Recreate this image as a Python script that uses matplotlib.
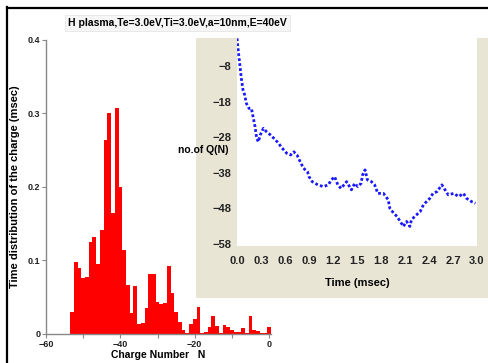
import matplotlib
matplotlib.use("Agg")
import matplotlib.pyplot as plt
from matplotlib.lines import Line2D

plt.rcParams['font.family'] = ['Liberation Sans', 'DejaVu Sans']
plt.rcParams['font.weight'] = 'bold'

# histogram: charge number vs time distribution
charge = list(range(-53, 1))
dist = [0.030, 0.098, 0.090, 0.076, 0.078, 0.125, 0.132, 0.095, 0.141, 0.264,
        0.300, 0.164, 0.307, 0.200, 0.114, 0.067, 0.028, 0.065, 0.014, 0.015,
        0.035, 0.081, 0.082, 0.044, 0.041, 0.042, 0.093, 0.056, 0.030, 0.017,
        0.006, 0.002, 0.014, 0.020, 0.037, 0.002, 0.003, 0.010, 0.025, 0.011,
        0.001, 0.012, 0.009, 0.005, 0.003, 0.003, 0.008, 0.002, 0.025, 0.005,
        0.004, 0.002, 0.001, 0.010]

# inset: charge Q(N) vs time
time = [0.0, 0.017, 0.033, 0.054, 0.075, 0.096, 0.117, 0.15, 0.18, 0.2,
        0.225, 0.246, 0.267, 0.29, 0.33, 0.37, 0.42, 0.46, 0.52, 0.55,
        0.62, 0.67, 0.71, 0.75, 0.79, 0.83, 0.88, 0.9, 0.94, 1.01,
        1.08, 1.14, 1.18, 1.22, 1.26, 1.3, 1.37, 1.43, 1.47, 1.51,
        1.55, 1.57, 1.6, 1.63, 1.68, 1.72, 1.76, 1.83, 1.89, 1.91,
        1.96, 2.0, 2.04, 2.08, 2.12, 2.16, 2.18, 2.22, 2.29, 2.33,
        2.37, 2.41, 2.45, 2.5, 2.56, 2.6, 2.64, 2.71, 2.77, 2.83,
        2.87, 2.93, 2.98]
qn = [-0.2, -4.0, -7.2, -11.5, -14.7, -16.1, -18.5, -19.9, -19.9, -22.2,
      -25.0, -28.3, -29.3, -27.4, -25.5, -26.5, -27.4, -28.3, -29.7, -30.7,
      -32.5, -33.0, -32.1, -33.0, -34.9, -36.7, -37.7, -39.1, -40.5, -41.4,
      -41.9, -41.4, -40.0, -39.1, -41.4, -42.4, -40.5, -42.8, -41.0, -41.9,
      -41.0, -38.6, -37.2, -40.0, -40.5, -41.4, -43.8, -43.8, -45.6, -48.0,
      -49.4, -50.3, -51.7, -53.1, -51.7, -53.1, -51.3, -50.3, -48.9, -47.0,
      -46.1, -45.2, -43.8, -43.3, -41.4, -42.8, -44.2, -43.8, -44.7, -43.8,
      -45.2, -46.1, -46.6]

fig = plt.figure(figsize=(4.89, 3.63), dpi=100)

# main histogram
ax = fig.add_axes([0.0941, 0.0799, 0.460, 0.810])
ax.bar(charge, dist, width=1.0, color='#ff0000', linewidth=0)
ax.set_xlim(-60, 0.5)
ax.set_ylim(0, 0.4)
ax.set_xticks([-60, -40, -20, 0])
ax.set_xticks([-50, -30, -10], minor=True)
ax.set_yticks([0, 0.1, 0.2, 0.3, 0.4])
ax.set_yticklabels(['0', '0.1', '0.2', '0.3', '0.4'])
for s in ['top', 'right']:
    ax.spines[s].set_visible(False)
for s in ['left', 'bottom']:
    ax.spines[s].set_color('#888888')
    ax.spines[s].set_linewidth(1.0)
ax.tick_params(axis='both', which='both', colors='#888888', labelcolor='#222222',
               labelsize=6.5, length=3, width=0.8, pad=1)
ax.set_xlabel('Charge Number   N', fontsize=7.5, fontweight='bold', labelpad=1)
fig.text(0.030, 0.487, 'Time distribution of the charge (msec)', rotation=90,
         fontsize=8, fontweight='bold', ha='center', va='center')

# inset panel background
bg = fig.add_axes([0.401, 0.179, 0.599, 0.716])
bg.set_facecolor('#e8e5d5')
bg.set_xticks([])
bg.set_yticks([])
for s in bg.spines.values():
    s.set_visible(False)

ins = fig.add_axes([0.4847, 0.3223, 0.4908, 0.573])
ins.plot(time, qn, color='#1a1aff', linestyle=(0, (1, 0.8)), linewidth=2.0)
ins.set_xlim(0, 3.0)
ins.set_ylim(-58.6, -0.1)
ins.set_xticks([0.0, 0.3, 0.6, 0.9, 1.2, 1.5, 1.8, 2.1, 2.4, 2.7, 3.0])
ins.set_xticklabels(['0.0', '0.3', '0.6', '0.9', '1.2', '1.5', '1.8', '2.1', '2.4', '2.7', '3.0'])
ins.set_yticks([-8, -18, -28, -38, -48, -58])
for s in ins.spines.values():
    s.set_visible(False)
ins.tick_params(axis='both', length=0, labelsize=8, labelcolor='#222222')
ins.tick_params(axis='x', pad=7)
ins.tick_params(axis='y', pad=4)
ins.set_xlabel('Time (msec)', fontsize=8, fontweight='bold', labelpad=9)
fig.text(0.364, 0.587, 'no.of Q(N)', fontsize=7.5, fontweight='bold', ha='left', va='center')

# title box
fig.text(0.139, 0.936, 'H plasma,Te=3.0eV,Ti=3.0eV,a=10nm,E=40eV', fontsize=7.5,
         fontweight='bold', ha='left', va='center',
         bbox=dict(boxstyle='square,pad=0.3', facecolor='#f6f6f6', edgecolor='#e6e6e6', linewidth=0.6))

# frame lines (top and left)
fig.add_artist(Line2D([0.014, 1.0], [0.979, 0.979], color='black', linewidth=1.6, transform=fig.transFigure))
fig.add_artist(Line2D([0.015, 0.015], [0.0, 0.980], color='black', linewidth=1.6, transform=fig.transFigure))

fig.savefig('out.png', dpi=100)
